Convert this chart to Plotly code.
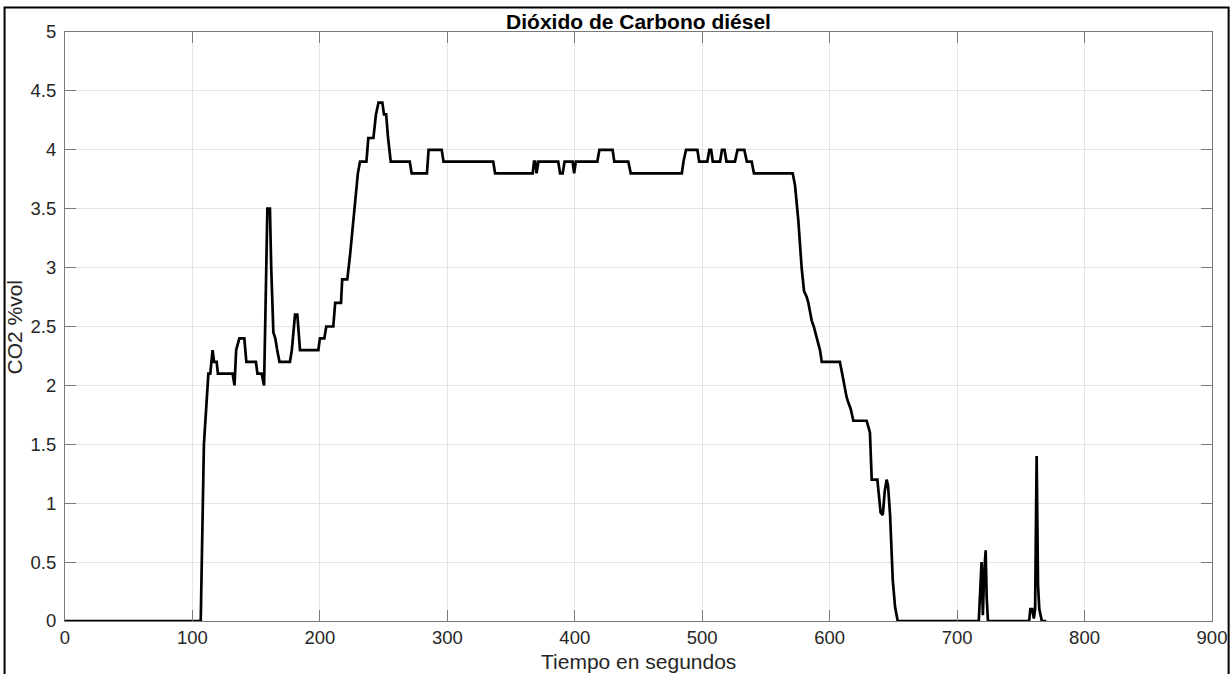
import plotly.graph_objects as go

# CO2 concentration of the diesel run, sampled at its breakpoints
tiempo_s = [
    0, 106.5, 109, 111.5, 112.5, 114, 115.8, 117, 119, 120, 131.5, 133, 134.3, 136.8,
    140.7, 142.3, 149.8, 151, 154.3, 156.2, 157.2, 158.8, 160.8, 161.8, 163.5, 165,
    166.5, 168.3, 176.5, 178, 180.5, 182.3, 184.4, 198.8, 200, 203.5, 205, 210.5, 212,
    216.6, 217.5, 221.5, 223.6, 226.2, 228, 229.8, 231.5, 236.5, 238, 242, 244, 246,
    249, 250.3, 252, 253.5, 255.6, 270.5, 272, 284, 285.3, 295.6, 297, 336, 337.5, 367,
    368, 369, 370, 371.5, 387, 388.5, 390.5, 392, 398.3, 399.5, 400.8, 417.7, 419.3,
    429.7, 431, 442, 443.9, 484, 485.3, 487.3, 496.2, 497.6, 504, 505.6, 507, 508.3,
    514, 515.5, 517.5, 519, 525.7, 527.7, 533, 535, 538.8, 540.6, 571, 572.8, 575.4,
    578, 579.9, 582, 583.3, 585.9, 587.5, 589.8, 592.4, 593.8, 608, 610.7, 613.3, 614.8,
    616.5, 618.6, 629, 631.6, 633, 637.4, 640, 641.7, 643.2, 644.7, 645.8, 647.4, 649.5,
    651.3, 653.4, 717, 718, 719.2, 720.2, 721.2, 722.4, 723.2, 724.2, 756.5, 757.5, 759,
    760.2, 761.2, 762.4, 763.5, 764.5, 766.5, 770,
]
co2_vol = [
    0, 0, 1.5, 2.0, 2.1, 2.1, 2.3, 2.2, 2.2, 2.1, 2.1, 2.0, 2.3, 2.4,
    2.4, 2.2, 2.2, 2.1, 2.1, 2.0, 2.6, 3.5, 3.5, 3.0, 2.45, 2.4,
    2.3, 2.2, 2.2, 2.3, 2.6, 2.6, 2.3, 2.3, 2.4, 2.4, 2.5, 2.5, 2.7,
    2.7, 2.9, 2.9, 3.1, 3.4, 3.6, 3.8, 3.9, 3.9, 4.1, 4.1, 4.3, 4.4,
    4.4, 4.3, 4.3, 4.1, 3.9, 3.9, 3.8, 3.8, 4.0, 4.0, 3.9, 3.9, 3.8, 3.8,
    3.9, 3.9, 3.8, 3.9, 3.9, 3.8, 3.8, 3.9, 3.9, 3.8, 3.9, 3.9, 4.0,
    4.0, 3.9, 3.9, 3.8, 3.8, 3.9, 4.0, 4.0, 3.9, 3.9, 4.0, 4.0, 3.9,
    3.9, 4.0, 4.0, 3.9, 3.9, 4.0, 4.0, 3.9, 3.9, 3.8, 3.8, 3.7, 3.4,
    3.0, 2.8, 2.75, 2.7, 2.55, 2.5, 2.4, 2.3, 2.2, 2.2, 2.05, 1.9, 1.85,
    1.8, 1.7, 1.7, 1.6, 1.2, 1.2, 0.92, 0.9, 1.1, 1.2, 1.15, 0.9, 0.35,
    0.12, 0, 0, 0.2, 0.5, 0.05, 0.4, 0.6, 0.2, 0, 0, 0.1, 0.1,
    0.02, 0.1, 1.4, 0.3, 0.1, 0, 0,
]

x_ticks = list(range(0, 901, 100))
y_ticks = [0, 0.5, 1, 1.5, 2, 2.5, 3, 3.5, 4, 4.5, 5]
y_tick_text = ["0", "0.5", "1", "1.5", "2", "2.5", "3", "3.5", "4", "4.5", "5"]

FONT = "Liberation Sans, Arial, Helvetica, sans-serif"
AXIS_GREY = "#7a7a7a"
GRID_GREY = "#e4e4e4"

fig = go.Figure()
fig.add_trace(go.Scatter(
    x=tiempo_s, y=co2_vol, mode="lines",
    line=dict(color="black", width=2.7),
    showlegend=False, hoverinfo="x+y",
))

axis_common = dict(
    showgrid=True, gridcolor=GRID_GREY, gridwidth=1,
    showline=True, linecolor=AXIS_GREY, linewidth=1, mirror="ticks",
    ticks="inside", ticklen=11, tickwidth=1, tickcolor=AXIS_GREY,
    zeroline=False,
    tickfont=dict(family=FONT, size=18.5, color="#262626"),
)

fig.update_xaxes(range=[0, 900], tickvals=x_ticks, **axis_common)
fig.update_yaxes(range=[0, 5], tickvals=y_ticks, ticktext=y_tick_text,
                 ticklabelstandoff=4, **axis_common)

fig.update_layout(
    width=1231, height=674,
    margin=dict(l=65, r=19, t=32, b=53, autoexpand=False),
    paper_bgcolor="white", plot_bgcolor="white",
    title=dict(
        text="<b>Dióxido de Carbono diésel</b>",
        x=0.5, xref="paper", xanchor="center",
        y=1 - 22 / 674, yref="container", yanchor="middle",
        font=dict(family=FONT, size=21, color="black"),
    ),
    annotations=[
        dict(text="Tiempo en segundos", xref="paper", yref="paper",
             x=0.5, y=-0.0696, xanchor="center", yanchor="middle",
             showarrow=False, font=dict(family=FONT, size=21, color="#262626")),
        dict(text="CO2 %vol", xref="paper", yref="paper",
             x=-0.0436, y=0.5, xanchor="center", yanchor="middle", textangle=-90,
             showarrow=False, font=dict(family=FONT, size=21, color="#262626")),
    ],
    shapes=[
        dict(type="rect", xref="paper", yref="paper",
             x0=-0.0527, x1=1.0145, y0=-0.12, y1=1.0418,
             line=dict(color="black", width=2), fillcolor="rgba(0,0,0,0)",
             layer="above"),
    ],
)

fig.write_html("out.html")
